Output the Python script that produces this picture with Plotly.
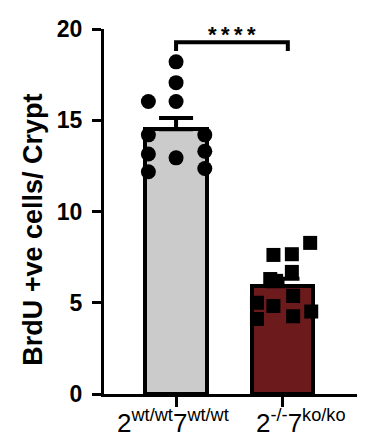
import numpy as np
import plotly.graph_objects as go

categories = ["2<sup>wt/wt</sup>7<sup>wt/wt</sup>", "2<sup>-/-</sup>7<sup>ko/ko</sup>"]
wt_values = [18.2, 17.06, 16.03, 16.03, 14.2, 14.2, 13.15, 12.94, 13.3, 12.18, 12.36]
wt_jitter = [0.0, 0.0, 0.0, -0.26, -0.26, 0.27, -0.26, 0.0, 0.27, -0.26, 0.27]
ko_values = [8.28, 7.62, 7.66, 6.69, 6.3, 6.2, 5.0, 4.11, 4.82, 5.37, 4.26, 4.52]
ko_jitter = [0.26, -0.085, 0.088, 0.088, -0.115, -0.06, -0.24, -0.24, -0.085, 0.10, 0.10, 0.27]
y_ticks = [0, 5, 10, 15, 20]
y_title = "BrdU +ve cells/ Crypt"
sig_label = "*\u2009*\u2009*\u2009*"

groups = [wt_values, ko_values]
means = [float(np.mean(g)) for g in groups]
sems = [float(np.std(g, ddof=1) / np.sqrt(len(g))) for g in groups]
xpos = [0, 1]

FONT = "Liberation Sans, Arial, Helvetica, sans-serif"

fig = go.Figure()
fig.add_trace(go.Bar(
    x=xpos, y=means, width=0.58,
    marker=dict(color=["#cbcbcb", "#6c1a1c"], line=dict(color="black", width=4)),
    error_y=dict(type="data", array=sems, arrayminus=[0, 0], symmetric=False,
                 color="black", thickness=4, width=17),
    showlegend=False,
))
fig.add_trace(go.Scatter(
    x=[xpos[0] + j for j in wt_jitter], y=wt_values, mode="markers",
    marker=dict(symbol="circle", size=15, color="black"),
    cliponaxis=False, showlegend=False,
))
fig.add_trace(go.Scatter(
    x=[xpos[1] + j for j in ko_jitter], y=ko_values, mode="markers",
    marker=dict(symbol="square", size=14, color="black"),
    cliponaxis=False, showlegend=False,
))

# significance bracket
fig.add_shape(type="path", xref="x", yref="y",
              path="M 0,18.8 L 0,19.27 L 1.05,19.27 L 1.05,18.8",
              line=dict(color="black", width=4))
fig.add_annotation(x=0.525, y=20.0, xref="x", yref="y", text=sig_label,
                   showarrow=False, yshift=-5,
                   font=dict(family=FONT, size=22, color="black", weight="bold"),
                   yanchor="middle")

# x category labels
shifts = [-3, 19]
for i, lab in enumerate(categories):
    fig.add_annotation(x=xpos[i], y=0, xref="x", yref="paper", text=lab,
                       showarrow=False, xshift=shifts[i], yshift=-9,
                       yanchor="top", font=dict(family=FONT, size=26, color="black"))

# y title
fig.add_annotation(x=-0.282, y=0.449, xref="paper", yref="paper", text=y_title,
                   textangle=-90, showarrow=False, xanchor="center", yanchor="middle",
                   font=dict(family=FONT, size=27, color="black", weight="bold"))

# page body has an 8px margin: size the figure to fit the 365x443 window
fig.update_layout(
    width=357, height=435,
    margin=dict(l=96, r=8, t=10, b=49),
    paper_bgcolor="white", plot_bgcolor="white",
    bargap=0,
    xaxis=dict(range=[-0.677, 1.70], tickvals=xpos, showticklabels=False,
               showline=True, linecolor="black", linewidth=3,
               ticks="outside", ticklen=10, tickwidth=3, tickcolor="black",
               showgrid=False, zeroline=False, fixedrange=True),
    yaxis=dict(range=[0, 20], tickvals=y_ticks, showline=True, linecolor="black",
               linewidth=3, ticks="outside", ticklen=9, tickwidth=3, tickcolor="black",
               tickfont=dict(family=FONT, size=23, color="black", weight="bold"),
               ticklabelstandoff=5, ticklabeloverflow="allow",
               showgrid=False, zeroline=False, fixedrange=True),
)

fig.write_html("out.html")
